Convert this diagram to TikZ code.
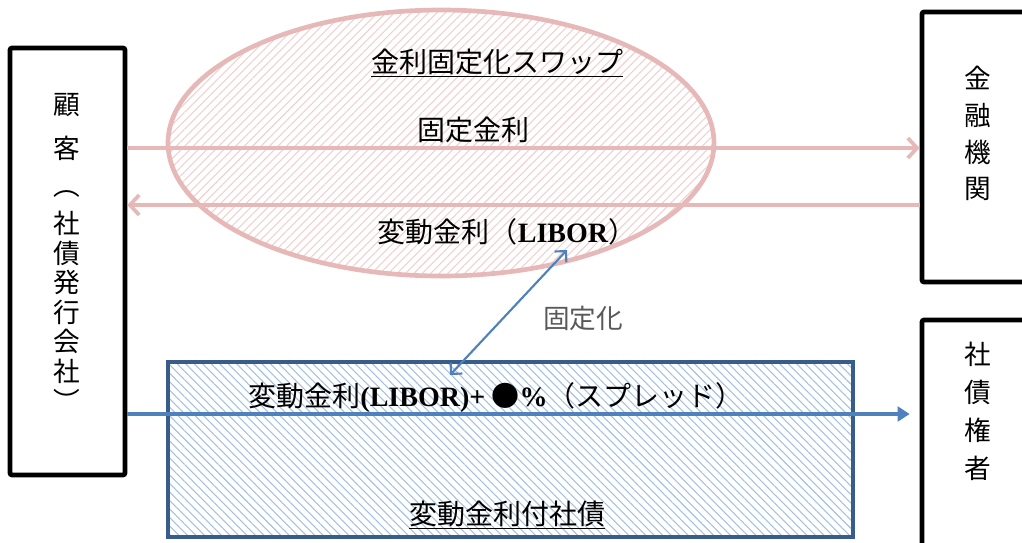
\documentclass[tikz,border=0pt]{standalone}
\usepackage{fontspec}
\setmainfont{Liberation Serif}
\newfontfamily\jp{Noto Sans CJK JP}
\usetikzlibrary{shapes.geometric,arrows.meta,patterns.meta}
\definecolor{pinkc}{HTML}{E6B9B8}
\definecolor{pinkh}{HTML}{F0D0CF}
\definecolor{bluel}{HTML}{4F81BD}
\definecolor{blued}{HTML}{385D8A}
\definecolor{blueh}{HTML}{A5C0E0}
\definecolor{grayt}{HTML}{595959}
\newcommand\lat[1]{{\rmfamily\bfseries #1}}
\tikzset{
  box/.style={draw=black, line width=3.5pt, rounded corners=1.5pt, inner sep=0pt},
  jtxt/.style={font=\jp\fontsize{20}{24}\selectfont, inner sep=0pt, anchor=center},
  jbig/.style={font=\jp\fontsize{21}{25}\selectfont, inner sep=0pt, anchor=center},
  pinkarrow/.style={draw=pinkc, line width=2.8pt, -{Straight Barb[length=7pt,width=15pt]}},
  bluearrow/.style={draw=bluel, line width=2.4pt, -{Triangle[length=9pt,width=11pt]}},
  dblarrow/.style={draw=bluel, line width=1.6pt, {Straight Barb[length=6pt,width=12pt]}-{Straight Barb[length=6pt,width=12pt]}}
}
\begin{document}
\begin{tikzpicture}[x=0.75pt,y=-0.75pt]
\useasboundingbox (0,0) rectangle (1022,543);
\clip (0,0) rectangle (1022,543);

% ellipse (swap)
\node[ellipse, draw=pinkc, line width=3.5pt, inner sep=0pt,
      minimum width=409.5pt, minimum height=199.5pt,
      pattern={Lines[angle=45,distance=4.5pt,line width=0.8pt]}, pattern color=pinkh] (swap) at (441,143) {};

% boxes
\node[box, minimum width=86.25pt, minimum height=320.25pt] (cust) at (67.5,261.5) {};
\node[box, minimum width=92.25pt, minimum height=202.5pt] (fin) at (983.5,147) {};
\node[box, minimum width=92.25pt, minimum height=187.5pt] (hold) at (983.5,445) {};

% bond rectangle
\node[draw=blued, line width=3.5pt, inner sep=0pt,
      minimum width=513.75pt, minimum height=131.25pt,
      pattern={Lines[angle=-45,distance=4.5pt,line width=0.8pt]}, pattern color=blueh] (bond) at (510.5,449.5) {};

% texts in ellipse
\node[jbig] (t1) at (497,63) {\underline{金利固定化スワップ}};
\node[jbig] (t2) at (473,130) {固定金利};
\node[jbig] (t3) at (507,232) {変動金利（\lat{LIBOR}）};

% pink arrows
\draw[pinkarrow] (cust.east |- 0,148) -- (fin.west |- 0,148);
\draw[pinkarrow] (fin.west |- 0,205) -- (cust.east |- 0,205);

% fixing arrow
\coordinate (fx1) at (450,375);
\coordinate (fx2) at (567,250);
\draw[dblarrow] (fx1) -- (fx2);
\node[jtxt, text=grayt] (t4) at (583,318) {固定化};

% bond texts
\node[jbig] (t5) at (496,397) {変動金利\lat{(LIBOR)+}\ ●\lat{\%}（スプレッド）};
\node[jbig] (t6) at (507,515) {\underline{変動金利付社債}};

% blue arrow
\draw[bluearrow, shorten >=7.5pt] (cust.east |- 0,414) -- (hold.west |- 0,414);

% customer text
\node[jtxt] (c1) at (67,105) {顧};
\node[jtxt] (c2) at (67,148) {客};
\foreach \ch [count=\i] in {︵,社,債,発,行,会,社,︶}{
  \node[jtxt] (cv\i) at (67,{194+(\i-1)*29.5}) {\ch};
}
% financial institution
\foreach \ch [count=\i] in {金,融,機,関}{
  \node[jtxt] (f\i) at (978,{78+(\i-1)*37}) {\ch};
}
% bond holders
\foreach \ch [count=\i] in {社,債,権,者}{
  \node[jtxt] (h\i) at (978,{354+(\i-1)*38}) {\ch};
}
\end{tikzpicture}
\end{document}
